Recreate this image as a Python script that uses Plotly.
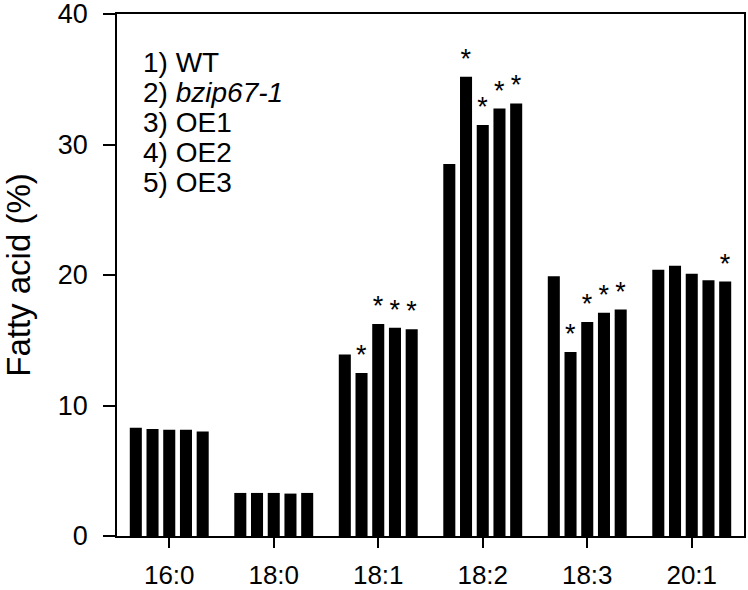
import plotly.graph_objects as go

categories = ["16:0", "18:0", "18:1", "18:2", "18:3", "20:1"]
series_names = ["WT", "bzip67-1", "OE1", "OE2", "OE3"]
wt = [8.3, 3.3, 13.9, 28.5, 19.9, 20.4]
bzip67_1 = [8.2, 3.3, 12.5, 35.2, 14.1, 20.7]
oe1 = [8.15, 3.3, 16.25, 31.5, 16.4, 20.1]
oe2 = [8.15, 3.25, 15.95, 32.75, 17.1, 19.6]
oe3 = [8.0, 3.3, 15.85, 33.15, 17.35, 19.5]
values = [wt, bzip67_1, oe1, oe2, oe3]
# significance markers per series (per category)
sig_wt = ["", "", "", "", "", ""]
sig_bzip = ["", "", "*", "*", "*", ""]
sig_oe1 = ["", "", "*", "*", "*", ""]
sig_oe2 = ["", "", "*", "*", "*", ""]
sig_oe3 = ["", "", "*", "*", "*", "*"]
sigs = [sig_wt, sig_bzip, sig_oe1, sig_oe2, sig_oe3]
legend_lines = ["1) WT", "2) <i>bzip67-1</i>", "3) OE1", "4) OE2", "5) OE3"]
y_ticks = [0, 10, 20, 30, 40]

FONT = "Liberation Sans, Arial, sans-serif"

fig = go.Figure()
for name, vals, sg in zip(series_names, values, sigs):
    fig.add_trace(go.Bar(
        x=categories, y=vals, name=name,
        marker=dict(color="black", line=dict(width=0)),
        text=sg, textposition="outside", constraintext="none",
        textfont=dict(family=FONT, size=27, color="black"),
        cliponaxis=False,
    ))

for i, line in enumerate(legend_lines):
    fig.add_annotation(
        xref="paper", yref="paper", x=0.038, y=0.908 - i * 0.0575,
        xanchor="left", yanchor="middle", showarrow=False,
        text=line, font=dict(family=FONT, size=28, color="black"),
    )

fig.update_layout(
    width=748, height=590,
    margin=dict(l=117, r=4, t=14, b=54, autoexpand=False),
    paper_bgcolor="white", plot_bgcolor="white",
    barmode="group", bargap=0.2, bargroupgap=0.28,
    showlegend=False,
    font=dict(family=FONT, color="black"),
)
fig.update_xaxes(
    type="category", range=[-0.5, 5.5], automargin=False,
    showline=True, linecolor="black", linewidth=1.8, mirror=True,
    ticks="outside", ticklen=10, tickwidth=1.8, tickcolor="black",
    tickfont=dict(family=FONT, size=26, color="black"),
    ticklabelstandoff=5, ticklabeloverflow="allow",
    showgrid=False, zeroline=False,
)
fig.update_yaxes(
    range=[0, 40], tickvals=y_ticks, automargin=False,
    showline=True, linecolor="black", linewidth=1.8, mirror=True,
    ticks="outside", ticklen=12, tickwidth=1.8, tickcolor="black",
    tickfont=dict(family=FONT, size=27, color="black"),
    ticklabelstandoff=10, ticklabeloverflow="allow",
    showgrid=False, zeroline=False,
    title=dict(text="Fatty acid (%)", font=dict(family=FONT, size=33, color="black"), standoff=30),
)

fig.write_html(
    "out.html",
    config={"displayModeBar": False},
    post_script="document.body.style.margin='0';document.body.style.overflow='hidden';",
)
